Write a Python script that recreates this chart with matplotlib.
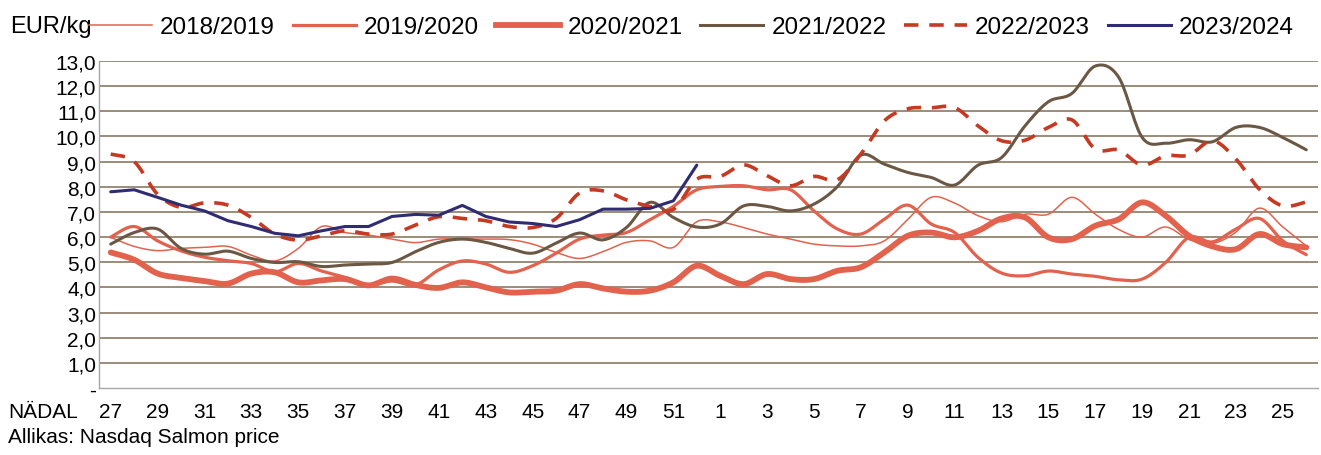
import numpy as np
import matplotlib
matplotlib.use("Agg")
import matplotlib.pyplot as plt
from matplotlib.lines import Line2D

weeks = list(range(27, 53)) + list(range(1, 27))

s1819 = [5.99, 5.63, 5.46, 5.55, 5.59, 5.63, 5.28, 5.05, 5.55, 6.42, 6.18, 6.08, 5.92,
         5.78, 5.92, 5.92, 5.92, 5.90, 5.72, 5.39, 5.15, 5.42, 5.79, 5.85, 5.59, 6.61,
         6.60, 6.38, 6.12, 5.92, 5.72, 5.65, 5.65, 5.85, 6.70, 7.58, 7.35, 6.85, 6.61,
         6.91, 6.91, 7.58, 6.91, 6.30, 6.00, 6.40, 5.90, 5.75, 6.20, 7.15, 6.40, 5.65]
s1920 = [6.00, 6.42, 5.85, 5.45, 5.20, 5.06, 4.95, 4.62, 4.95, 4.65, 4.40, 4.10, 4.25,
         4.10, 4.70, 5.05, 4.93, 4.60, 4.86, 5.36, 5.92, 6.08, 6.18, 6.69, 7.22, 7.88,
         8.01, 8.04, 7.88, 7.88, 7.04, 6.32, 6.12, 6.71, 7.27, 6.52, 6.18, 5.19, 4.57,
         4.46, 4.65, 4.53, 4.44, 4.30, 4.33, 4.99, 5.99, 5.81, 6.32, 6.74, 5.85, 5.30]
s2021 = [5.39, 5.10, 4.55, 4.38, 4.25, 4.15, 4.55, 4.60, 4.20, 4.28, 4.33, 4.08, 4.35,
         4.10, 3.98, 4.20, 4.00, 3.80, 3.83, 3.87, 4.13, 3.96, 3.83, 3.87, 4.20, 4.86,
         4.46, 4.13, 4.53, 4.33, 4.33, 4.66, 4.80, 5.39, 6.05, 6.18, 5.99, 6.25, 6.74,
         6.78, 5.99, 5.92, 6.45, 6.71, 7.38, 6.85, 6.05, 5.63, 5.52, 6.12, 5.72, 5.59]
s2122 = [5.72, 6.18, 6.32, 5.55, 5.32, 5.44, 5.15, 4.99, 5.02, 4.83, 4.89, 4.93, 4.99,
         5.42, 5.79, 5.92, 5.79, 5.55, 5.36, 5.76, 6.16, 5.89, 6.38, 7.38, 6.78, 6.40,
         6.52, 7.24, 7.22, 7.04, 7.31, 8.01, 9.26, 8.90, 8.57, 8.37, 8.07, 8.86, 9.16,
         10.42, 11.38, 11.71, 12.80, 12.35, 9.96, 9.73, 9.87, 9.79, 10.36, 10.36, 9.96, 9.47]
s2223 = [9.30, 9.00, 7.70, 7.18, 7.36, 7.27, 6.78, 6.12, 5.88, 6.05, 6.25, 6.12, 6.12,
         6.48, 6.81, 6.74, 6.65, 6.42, 6.38, 6.74, 7.75, 7.84, 7.48, 7.22, 7.10, 8.30,
         8.41, 8.87, 8.44, 8.04, 8.41, 8.28, 9.30, 10.62, 11.10, 11.14, 11.15, 10.42, 9.83,
         9.85, 10.36, 10.66, 9.50, 9.46, 8.86, 9.23, 9.26, 9.83, 9.10, 7.90, 7.24, 7.40]
s2324 = [7.80, 7.88, 7.58, 7.27, 7.04, 6.65, 6.42, 6.15, 6.05, 6.25, 6.42, 6.42, 6.82,
         6.90, 6.87, 7.26, 6.82, 6.60, 6.54, 6.42, 6.69, 7.11, 7.11, 7.14, 7.44, 8.86]

labels = ["2018/2019", "2019/2020", "2020/2021", "2021/2022", "2022/2023", "2023/2024"]
yticks = list(range(0, 14))
ytick_labels = ["-"] + [f"{v},0" for v in range(1, 14)]

CORAL = "#E2624E"
DRED = "#C53A22"
BROWN = "#6B5844"
NAVY = "#2F2C72"
GRID = "#94826E"

plt.rcParams["font.family"] = ["Liberation Sans", "DejaVu Sans"]


def catmull(xs, ys, n=16):
    p = np.column_stack([xs, ys]).astype(float)
    p = np.vstack([p[0], p, p[-1]])
    out = []
    t = np.linspace(0, 1, n, endpoint=False)[:, None]
    for i in range(1, len(p) - 2):
        p0, p1, p2, p3 = p[i - 1], p[i], p[i + 1], p[i + 2]
        seg = 0.5 * ((2 * p1) + (-p0 + p2) * t + (2 * p0 - 5 * p1 + 4 * p2 - p3) * t ** 2
                     + (-p0 + 3 * p1 - 3 * p2 + p3) * t ** 3)
        out.append(seg)
    out.append(p[-2][None, :])
    out = np.vstack(out)
    return out[:, 0], out[:, 1]


fig = plt.figure(figsize=(13.21, 4.56), dpi=100)
ax = fig.add_axes([99 / 1321, 1 - 389 / 456, (1318 - 99) / 1321, (389 - 62) / 456])

x = np.arange(len(weeks))
styles = [
    (s1819, dict(color=CORAL, lw=1.1), True),
    (s1920, dict(color=CORAL, lw=2.3), True),
    (s2021, dict(color=CORAL, lw=4.2), True),
    (s2122, dict(color=BROWN, lw=2.2), True),
    (s2223, dict(color=DRED, lw=2.6, dashes=(4, 3)), True),
    (s2324, dict(color=NAVY, lw=2.2), False),
]
handles = []
for (data, st, smooth), lab in zip(styles, labels):
    xx = x[:len(data)]
    if smooth:
        sx, sy = catmull(xx, data)
    else:
        sx, sy = xx, np.array(data)
    ax.plot(sx, sy, solid_capstyle="round", solid_joinstyle="round", zorder=3, **st)
    handles.append(Line2D([], [], **st))

ax.set_xlim(-0.5, len(weeks) - 0.5)
ax.set_ylim(0, 13)
ax.set_yticks(yticks)
ax.set_yticklabels(ytick_labels, fontsize=15)
ax.set_xticks(x[::2])
ax.set_xticklabels([str(w) for w in weeks[::2]], fontsize=15)
ax.tick_params(axis="both", length=0)
ax.tick_params(axis="y", pad=2)
ax.tick_params(axis="x", pad=10)
for v in range(1, 14):
    ax.axhline(v, color=GRID, lw=1.3, zorder=1)
for s in ["top", "right"]:
    ax.spines[s].set_visible(False)
for s in ["left", "bottom"]:
    ax.spines[s].set_color("#A6A6A6")
    ax.spines[s].set_linewidth(1.0)

fig.text(10 / 1321, 1 - 27 / 456, "EUR/kg", fontsize=17, va="center", ha="left")
fig.text(8 / 1321, 1 - 413 / 456, "NÄDAL", fontsize=15, va="center", ha="left")
fig.text(8 / 1321, 1 - 438 / 456, "Allikas: Nasdaq Salmon price", fontsize=15,
         va="center", ha="left")

fig.legend(handles, labels, loc="center left", bbox_to_anchor=(89 / 1321, 1 - 28 / 456),
           ncol=6, frameon=False, fontsize=17.5, handlelength=2.6, handletextpad=0.33,
           columnspacing=0.72, borderpad=0, borderaxespad=0)

fig.savefig("out.png", dpi=100)
